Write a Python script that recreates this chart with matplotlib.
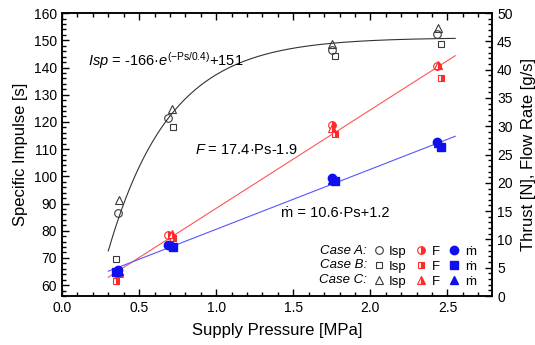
import numpy as np
import matplotlib
matplotlib.use("Agg")
import matplotlib.pyplot as plt
from matplotlib.lines import Line2D
from matplotlib.ticker import MultipleLocator

plt.rcParams["font.family"] = ["Liberation Sans", "DejaVu Sans"]
plt.rcParams["mathtext.fontset"] = "custom"
plt.rcParams["mathtext.rm"] = "Liberation Sans"
plt.rcParams["mathtext.it"] = "Liberation Sans:italic"

# supply pressure for each case [MPa]
ps_A = [0.36, 0.69, 1.75, 2.43]
ps_B = [0.35, 0.72, 1.77, 2.46]
ps_C = [0.37, 0.71, 1.75, 2.44]

# specific impulse [s]
isp_A = [86.5, 121.5, 146.6, 152.2]
isp_B = [69.5, 118.0, 144.3, 148.5]
isp_C = [91.2, 124.6, 148.8, 154.6]

# thrust [N]
thrust_A = [4.4, 10.8, 30.2, 40.7]
thrust_B = [2.7, 10.2, 28.6, 38.5]
thrust_C = [4.0, 11.0, 29.7, 40.8]

# flow rate [g/s]
mdot_A = [4.6, 9.0, 20.9, 27.2]
mdot_B = [4.2, 8.7, 20.3, 26.4]
mdot_C = [4.4, 9.0, 20.5, 27.0]

# fitted curves as printed on the chart
ps_fit = np.linspace(0.3, 2.55, 200)
isp_fit = -166 * np.exp(-ps_fit / 0.4) + 151
thrust_fit = 17.4 * ps_fit - 1.9
mdot_fit = 10.6 * ps_fit + 1.2

GRAY = "#3a3a3a"
RED = "#ff2a2a"
BLUE = "#1010ee"
MS = 5.5

fig = plt.figure(figsize=(5.35, 3.45), dpi=100)
ax = fig.add_axes([0.116, 0.142, 0.804, 0.820])
ax2 = ax.twinx()

# Isp (left axis)
ax.plot(ps_fit, isp_fit, color="#333333", lw=0.8)
ax.plot(ps_A, isp_A, "o", mfc="none", mec=GRAY, mew=0.8, ms=MS, ls="none")
ax.plot(ps_B, isp_B, "s", mfc="none", mec=GRAY, mew=0.8, ms=MS - 0.5, ls="none")
ax.plot(ps_C, isp_C, "^", mfc="none", mec=GRAY, mew=0.8, ms=MS + 0.5, ls="none")

# thrust and flow rate (right axis)
ax2.plot(ps_fit, thrust_fit, color="#ff5555", lw=0.8)
ax2.plot(ps_fit, mdot_fit, color="#5555ff", lw=0.8)
half = dict(fillstyle="right", mfc=RED, mfcalt="white", mec=RED, mew=0.8, ls="none")
ax2.plot(ps_A, thrust_A, "o", ms=MS, **half)
ax2.plot(ps_B, thrust_B, "s", ms=MS - 0.5, **half)
ax2.plot(ps_C, thrust_C, "^", ms=MS + 0.5, **half)
ax2.plot(ps_A, mdot_A, "o", color=BLUE, ms=MS + 0.5, ls="none")
ax2.plot(ps_B, mdot_B, "s", color=BLUE, ms=MS, ls="none")
ax2.plot(ps_C, mdot_C, "^", color=BLUE, ms=MS + 0.5, ls="none")

ax.set_xlim(0, 2.79)
ax.set_ylim(56, 160)
ax2.set_ylim(0, 50)

ax.xaxis.set_major_locator(MultipleLocator(0.5))
ax.xaxis.set_minor_locator(MultipleLocator(0.1))
ax.yaxis.set_major_locator(MultipleLocator(10))
ax.yaxis.set_minor_locator(MultipleLocator(2))
ax2.yaxis.set_major_locator(MultipleLocator(5))
ax2.yaxis.set_minor_locator(MultipleLocator(1))
ax.xaxis.set_major_formatter(matplotlib.ticker.FormatStrFormatter("%.1f"))

ax.tick_params(which="both", direction="in", top=True, labelsize=10, width=1)
ax.tick_params(which="major", length=5)
ax.tick_params(which="minor", length=3)
ax2.tick_params(which="both", direction="in", labelsize=10, width=1)
ax2.tick_params(which="major", length=5)
ax2.tick_params(which="minor", length=3)
for a in (ax, ax2):
    for s in a.spines.values():
        s.set_linewidth(1.1)

ax.set_xlabel("Supply Pressure [MPa]", fontsize=12, labelpad=6)
ax.set_ylabel("Specific Impulse [s]", fontsize=12, labelpad=4)
ax2.set_ylabel("Thrust [N], Flow Rate [g/s]", fontsize=12, labelpad=6)

ax.text(0.17, 142.7, r"$\mathit{Isp}$ = -166·$\mathit{e}^{\mathrm{(-Ps/0.4)}}$+151",
        fontsize=10.5, va="center")
ax.text(0.86, 109.6, r"$\mathit{F}$ = 17.4·Ps-1.9", fontsize=10.5, va="center")
ax.text(1.42, 86.6, "ṁ = 10.6·Ps+1.2", fontsize=10.5, va="center")

# legend: columns Isp / F / mdot, rows Case A / B / C
handles = [
    Line2D([], [], marker="o", mfc="none", mec=GRAY, mew=0.8, ms=MS, ls="none"),
    Line2D([], [], marker="s", mfc="none", mec=GRAY, mew=0.8, ms=MS - 0.5, ls="none"),
    Line2D([], [], marker="^", mfc="none", mec=GRAY, mew=0.8, ms=MS + 0.5, ls="none"),
    Line2D([], [], marker="o", ms=MS, **half),
    Line2D([], [], marker="s", ms=MS - 0.5, **half),
    Line2D([], [], marker="^", ms=MS + 0.5, **half),
    Line2D([], [], marker="o", color=BLUE, ms=MS + 0.5, ls="none"),
    Line2D([], [], marker="s", color=BLUE, ms=MS, ls="none"),
    Line2D([], [], marker="^", color=BLUE, ms=MS + 0.5, ls="none"),
]
labels = ["Isp"] * 3 + ["F"] * 3 + ["ṁ"] * 3
leg = ax2.legend(handles, labels, ncol=3, frameon=False, fontsize=9.5,
                 loc="lower right", bbox_to_anchor=(0.99, -0.012),
                 handlelength=0.8, handletextpad=0.4, columnspacing=0.7,
                 labelspacing=0.2)
for i, case in enumerate(["Case A:", "Case B:", "Case C:"]):
    ax2.text(0.709, 0.159 - i * 0.051, case, transform=ax2.transAxes,
             fontsize=9.5, style="italic", ha="right", va="center")

fig.savefig("out.png", dpi=100)
